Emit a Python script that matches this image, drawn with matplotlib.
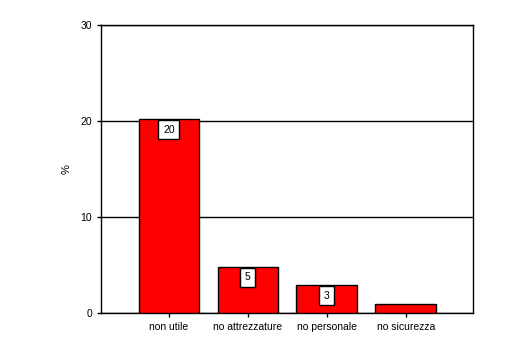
import matplotlib
matplotlib.use("Agg")
import matplotlib.pyplot as plt

# dati
categorie = ["non utile", "no attrezzature", "no personale", "no sicurezza"]
valori = [20.2, 4.8, 2.9, 0.9]
etichette = ["20", "5", "3", ""]

plt.rcParams['font.family'] = ['Liberation Sans', 'DejaVu Sans']

fig = plt.figure(figsize=(5.3, 3.5), dpi=100)
ax = fig.add_axes([0.1906, 0.1057, 0.7019, 0.8229])

x = range(len(categorie))
bars = ax.bar(x, valori, width=0.77, color='#ff0000', edgecolor='black',
              linewidth=1, zorder=3)

for b, lab in zip(bars, etichette):
    if lab:
        ax.annotate(lab, (b.get_x() + b.get_width() / 2, b.get_height()),
                    xytext=(0, -4), textcoords='offset points',
                    ha='center', va='top', fontsize=7.5, zorder=4,
                    bbox=dict(boxstyle='square,pad=0.45', fc='white',
                              ec='black', lw=1))

ax.set_ylim(0, 30)
ax.set_xlim(-0.86, 3.85)
ax.set_yticks([0, 10, 20, 30])
ax.set_xticks(list(x))
ax.set_xticklabels(categorie)
ax.tick_params(labelsize=7.5, length=3, width=1, colors='black')
ax.set_ylabel('%', fontsize=8, labelpad=6)
ax.yaxis.grid(True, color='black', linewidth=1, zorder=1)
for s in ax.spines.values():
    s.set_linewidth(1)

fig.savefig('out.png', dpi=100)
